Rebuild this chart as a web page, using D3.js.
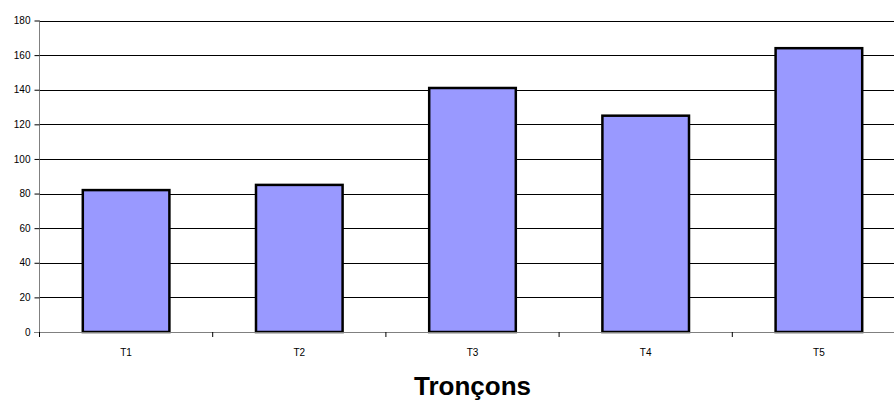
<!DOCTYPE html>
<html><head><meta charset="utf-8">
<script src="https://cdn.jsdelivr.net/npm/d3@7"></script>
<style>body{margin:0;background:#fff}svg{display:block;font-family:"Liberation Sans",Arial,sans-serif}</style>
</head><body><svg id="c" width="894" height="401"></svg>
<script>
const categories = ["T1","T2","T3","T4","T5"];
const values = [82, 85, 141, 125, 164];
const yTicks = [0,20,40,60,80,100,120,140,160,180];
const xTitle = "Tronçons";

(function(){
const svg = d3.select("#c");
const pLeft = 39.5, pRight = 905.5, pTop = 20.5, pBottom = 332;
const x = d3.scaleBand().domain(categories).range([pLeft, pRight]).paddingInner(0.5).paddingOuter(0.25);
const y = d3.scaleLinear().domain([0,180]).range([pBottom, pTop]);

// gridlines
svg.append("g").selectAll("line").data(yTicks.filter(d=>d>0)).join("line")
  .attr("x1", pLeft).attr("x2", 894).attr("y1", d=>Math.round(y(d))+0.5).attr("y2", d=>Math.round(y(d))+0.5)
  .attr("stroke", "#000").attr("stroke-width", 1);

// bars
svg.append("g").selectAll("rect").data(values).join("rect")
  .attr("x", (d,i)=>x(categories[i])).attr("width", x.bandwidth())
  .attr("y", d=>y(d)).attr("height", d=>pBottom - y(d))
  .attr("fill", "#9999ff").attr("stroke", "#000").attr("stroke-width", 2.5);

// y axis
const ya = svg.append("g").attr("transform", `translate(${pLeft},0)`)
  .call(d3.axisLeft(y).tickValues(yTicks).tickSize(5).tickPadding(4));
ya.select(".domain").attr("stroke", "#808080").attr("d", `M0,${pTop}V${pBottom+4}`);
ya.selectAll(".tick line").attr("stroke", "#000");
ya.selectAll("text").attr("font-size", 10).attr("fill", "#000").attr("font-family", "Liberation Sans, Arial, sans-serif");

// x axis
const xa = svg.append("g").attr("transform", `translate(0,${pBottom})`);
xa.append("line").attr("x1", pLeft-5).attr("x2", 894).attr("y1", 0.5).attr("y2", 0.5).attr("stroke", "#808080");
const bounds = d3.range(categories.length + 1).map(i => pLeft + i * x.step());
xa.selectAll(".tk").data(bounds).join("line").attr("class","tk")
  .attr("x1", d=>d).attr("x2", d=>d).attr("y1", 0).attr("y2", 5).attr("stroke", "#000");
xa.selectAll("text").data(categories).join("text")
  .attr("x", d=>x(d)+x.bandwidth()/2).attr("y", 24)
  .attr("text-anchor", "middle").attr("font-size", 10).attr("fill", "#000").text(d=>d);

svg.append("text").attr("x", (pLeft+pRight)/2).attr("y", 395)
  .attr("text-anchor", "middle").attr("font-size", 26).attr("font-weight", "bold").text(xTitle);
})();
</script></body></html>
